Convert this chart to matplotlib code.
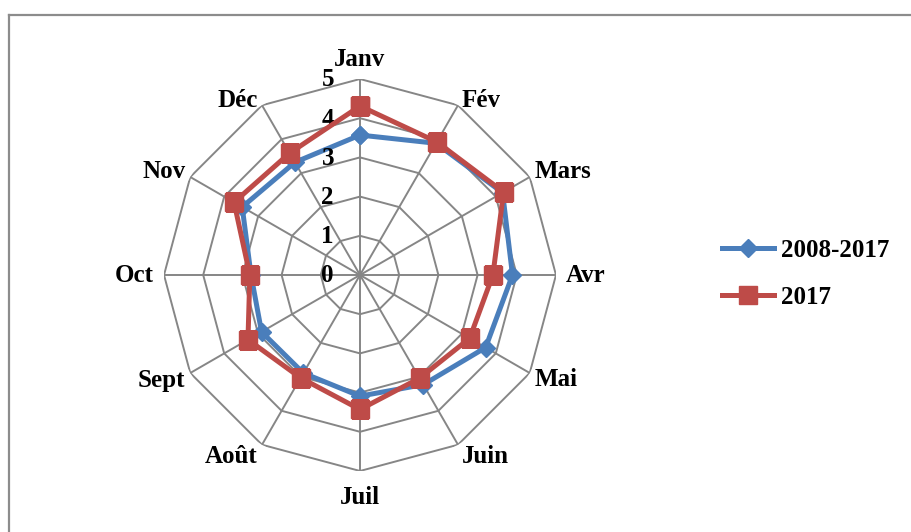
import numpy as np
import matplotlib
matplotlib.use("Agg")
import matplotlib.pyplot as plt
from matplotlib.lines import Line2D

months = ["Janv", "Fév", "Mars", "Avr", "Mai", "Juin", "Juil", "Août", "Sept", "Oct", "Nov", "Déc"]
series_names = ["2008-2017", "2017"]
s_2008_2017 = [3.57, 3.88, 4.20, 3.89, 3.70, 3.23, 3.09, 2.89, 2.90, 2.78, 3.47, 3.32]
s_2017 = [4.31, 3.92, 4.23, 3.39, 3.23, 3.04, 3.43, 3.03, 3.30, 2.81, 3.71, 3.59]
r_ticks = [0, 1, 2, 3, 4, 5]

W, H = 912, 532
fig = plt.figure(figsize=(W / 100, H / 100), dpi=100)
plt.rcParams['font.family'] = ['Liberation Serif', 'DejaVu Serif']

cx, cy, R = 360, 275, 196
ax = fig.add_axes([(cx - R) / W, (H - cy - R) / H, 2 * R / W, 2 * R / H], projection='polar')
ax.set_theta_zero_location('N')
ax.set_theta_direction(-1)
ax.set_ylim(0, 5)
ax.grid(False)
ax.set_xticks([])
ax.set_yticks([])
ax.spines['polar'].set_visible(False)
ax.patch.set_alpha(0)

n = len(months)
theta = np.arange(n) * 2 * np.pi / n
theta_c = np.append(theta, theta[0])
gcol = '#868686'
for lvl in r_ticks[1:]:
    ax.plot(theta_c, [lvl] * (n + 1), color=gcol, lw=1.4, zorder=1)
for t in theta:
    ax.plot([t, t], [0, r_ticks[-1]], color=gcol, lw=1.4, zorder=1)

blue = '#4A7EBB'
red = '#BE4B48'
v1 = np.append(s_2008_2017, s_2008_2017[0])
v2 = np.append(s_2017, s_2017[0])
ax.plot(theta_c, v1, color=blue, lw=3.6, marker='D', ms=9.5, mfc=blue, mec=blue, zorder=3,
        solid_joinstyle='round')
ax.plot(theta_c, v2, color=red, lw=3.6, marker='s', ms=13, mfc=red, mec=red, zorder=4,
        solid_joinstyle='round')

fs = 18
# month labels
offs = {
    0: (0, 8, 'center', 'bottom'),
    1: (4, 5, 'left', 'center'),
    2: (5, 5, 'left', 'center'),
    3: (10, -1, 'left', 'center'),
    4: (5, -7, 'left', 'center'),
    5: (4, -12, 'left', 'center'),
    6: (0, -15, 'center', 'top'),
    7: (-4, -12, 'right', 'center'),
    8: (-5, -7, 'right', 'center'),
    9: (-10, -1, 'right', 'center'),
    10: (-5, 5, 'right', 'center'),
    11: (-4, 5, 'right', 'center'),
}
for i, m in enumerate(months):
    dx, dy, ha, va = offs[i]
    ax.annotate(m, xy=(theta[i], r_ticks[-1]), xytext=(dx, dy), textcoords='offset pixels',
                ha=ha, va=va, fontsize=fs, fontweight='bold', annotation_clip=False)

for v in r_ticks:
    ax.annotate(str(v), xy=(0, v), xytext=(-26, -1), textcoords='offset pixels',
                ha='right', va='center', fontsize=fs, fontweight='bold', annotation_clip=False)

handles = [
    Line2D([], [], color=blue, lw=3.6, marker='D', ms=9.5),
    Line2D([], [], color=red, lw=3.6, marker='s', ms=13),
]
fig.legend(handles, series_names, loc='center left', bbox_to_anchor=(722 / W, 1 - 274 / H),
           frameon=False, prop={'weight': 'bold', 'size': fs}, handlelength=2.1,
           handletextpad=0.25, labelspacing=0.95, borderaxespad=0, borderpad=0)

# chart border (top and left edges visible)
fig.add_artist(Line2D([9 / W, 9 / W], [0, 1 - 15 / H], transform=fig.transFigure, color='#8c8c8c', lw=1.6))
fig.add_artist(Line2D([9 / W, 1], [1 - 15 / H, 1 - 15 / H], transform=fig.transFigure, color='#8c8c8c', lw=1.6))

fig.savefig('out.png', dpi=100)
